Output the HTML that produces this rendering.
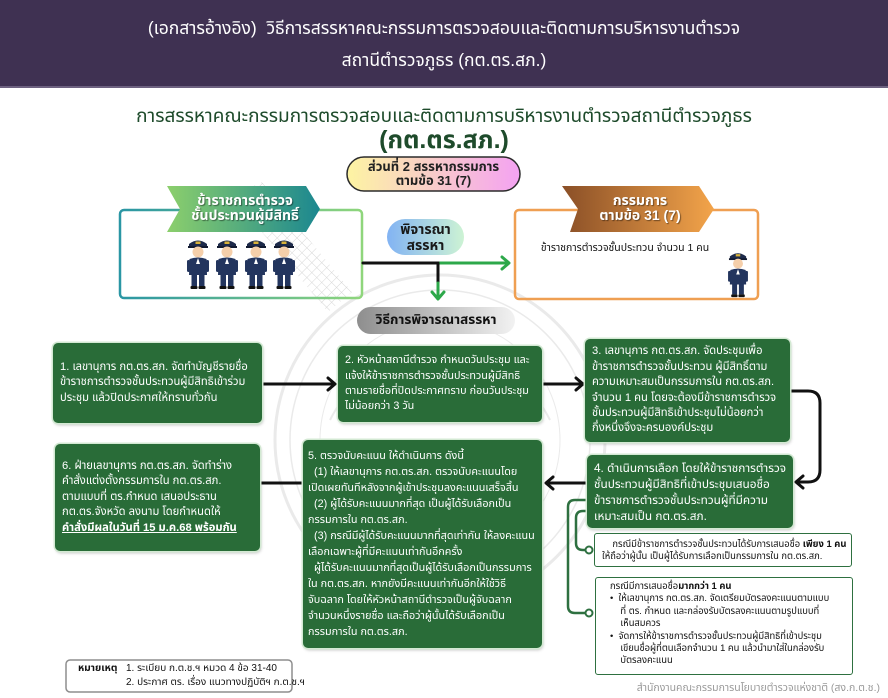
<!DOCTYPE html>
<html><head><meta charset="utf-8">
<style>
*{margin:0;padding:0;box-sizing:border-box}
html,body{width:888px;height:698px;overflow:hidden;background:#fff}
body{position:relative;font-family:"Liberation Sans","Noto Sans Thai","Noto Sans Thai Looped","Loma","Garuda","Tlwg Typo","Kinnari","DejaVu Sans",sans-serif;color:#111}
.abs{position:absolute}
#hdr{left:0;top:0;width:888px;height:88px;background:#3f3152;border-bottom:2px solid #6d6180;color:#fff;text-align:center;font-size:17.5px;line-height:32px;padding-top:12px;white-space:nowrap}
.title1{left:0;width:888px;top:102px;text-align:center;font-size:19px;color:#1e4b2b;white-space:nowrap}
.title2{left:0;width:888px;top:122px;text-align:center;font-size:25px;font-weight:bold;color:#1e4b2b}
.pill{border-radius:20px;display:flex;align-items:center;justify-content:center;text-align:center;font-weight:bold;white-space:nowrap}
.step{background:#296c38;color:#fff;border-radius:5px;box-shadow:0 0 0 1.5px #d3e9d3,1px 2px 3px rgba(0,0,0,.25);font-size:11.2px;line-height:15.4px;display:flex;align-items:center;padding:0 7px;white-space:nowrap;overflow:hidden}
.sub{background:#fff;border:1.5px solid #2e7040;border-radius:3px;font-size:9.4px;line-height:12px;white-space:nowrap;color:#111;overflow:hidden}
.banner{color:#fff;font-weight:bold;text-align:center;font-size:14px;line-height:15px;text-shadow:1px 1px 1px rgba(0,0,0,.45);white-space:nowrap}
</style></head><body>

<div id="hdr" class="abs">(เอกสารอ้างอิง)&nbsp; วิธีการสรรหาคณะกรรมการตรวจสอบและติดตามการบริหารงานตำรวจ<br>สถานีตำรวจภูธร (กต.ตร.สภ.)</div>

<svg class="abs" style="left:0;top:0" width="888" height="698" viewBox="0 0 888 698">
<defs>
<linearGradient id="gLB" x1="0" x2="1"><stop offset="0" stop-color="#8ccf6c"/><stop offset="1" stop-color="#1b8790"/></linearGradient>
<linearGradient id="gRB" x1="0" x2="1"><stop offset="0" stop-color="#8a4f27"/><stop offset="1" stop-color="#f3a44a"/></linearGradient>
<linearGradient id="gLBox" x1="0" x2="1"><stop offset="0" stop-color="#2a96a4"/><stop offset="1" stop-color="#8fd67c"/></linearGradient>
<linearGradient id="gPill" x1="0" x2="1"><stop offset="0" stop-color="#fdf4a2"/><stop offset="1" stop-color="#f4a2f2"/></linearGradient>
<linearGradient id="gPj" x1="0" x2="1"><stop offset="0" stop-color="#82b3f3"/><stop offset="1" stop-color="#cdf3d4"/></linearGradient>
<linearGradient id="gWt" x1="0" x2="1"><stop offset="0" stop-color="#8e8e8e"/><stop offset="1" stop-color="#f2f2f2"/></linearGradient>
<pattern id="mesh" width="7" height="7" patternUnits="userSpaceOnUse" patternTransform="rotate(45)"><path d="M0 0H7M0 0V7" stroke="#bdbdbd" stroke-width="1"/></pattern>
<symbol id="cop" viewBox="0 0 24 52">
 <path d="M3 6 Q12 -1 21 6 L21 9 L3 9 Z" fill="#1d2a4a"/>
 <rect x="9.5" y="3.5" width="5" height="2.5" fill="#d8b23a"/>
 <rect x="2" y="8" width="20" height="2" fill="#121a30"/>
 <circle cx="12" cy="14" r="5.5" fill="#f5cfaa"/>
 <path d="M3.5 21 Q12 18 20.5 21 L21 37 L3 37 Z" fill="#23355e"/>
 <path d="M12 20 L10 26 L14 26 Z" fill="#fff"/>
 <rect x="5.5" y="37" width="5.5" height="11" fill="#23355e"/>
 <rect x="13" y="37" width="5.5" height="11" fill="#23355e"/>
 <rect x="4.5" y="48" width="7" height="3" rx="1" fill="#111"/>
 <rect x="12.5" y="48" width="7" height="3" rx="1" fill="#111"/>
 <rect x="1" y="22" width="3" height="12" rx="1.5" fill="#23355e"/>
 <rect x="20" y="22" width="3" height="12" rx="1.5" fill="#23355e"/>
</symbol>
</defs>

<!-- watermark seal -->
<g opacity="0.55" fill="none" stroke="#d9d9d9">
 <circle cx="440" cy="440" r="165" stroke-width="3"/>
 <circle cx="440" cy="440" r="150" stroke-width="1.5"/>
 <circle cx="440" cy="440" r="120" stroke-width="1"/>
 <path d="M330 420 Q360 360 440 350 Q520 360 550 420" stroke-width="2"/>
 <path d="M360 470 Q440 520 520 470" stroke-width="2"/>
</g>
<polygon points="232,196 262,182 352,292 328,312" fill="url(#mesh)" opacity="0.6"/>

<!-- left box -->
<rect x="120" y="210" width="242" height="88" rx="4" fill="none" stroke="url(#gLBox)" stroke-width="2.5"/>
<polygon points="167,186 306,186 320,209 306,232 167,232 180,209" fill="url(#gLB)"/>
<use href="#cop" x="186" y="238" width="24" height="52"/>
<use href="#cop" x="215" y="238" width="24" height="52"/>
<use href="#cop" x="244" y="238" width="24" height="52"/>
<use href="#cop" x="272" y="238" width="24" height="52"/>

<!-- right box -->
<rect x="515" y="210" width="243" height="89" rx="4" fill="none" stroke="#ef9f52" stroke-width="2.5"/>
<polygon points="562,186 699,186 714,209 699,232 570,232 578,209" fill="url(#gRB)"/>
<use href="#cop" x="727" y="251" width="22" height="47"/>

<!-- center pills -->
<rect x="387" y="219" width="77" height="36" rx="18" fill="url(#gPj)"/>
<rect x="357" y="307" width="158" height="27" rx="13.5" fill="url(#gWt)"/>
<rect x="347" y="157" width="173" height="34" rx="17" fill="url(#gPill)" stroke="#2b2b2b" stroke-width="1.5"/>

<!-- top arrows -->
<g fill="none" stroke-width="3" stroke-linecap="round" stroke-linejoin="round">
 <path d="M363 263 H440" stroke="#111"/>
 <path d="M440 263 H508" stroke="#2da84a"/>
 <path d="M502 257 L509 263 L502 269" stroke="#2da84a"/>
 <path d="M438 263 V283" stroke="#111"/>
 <path d="M438 283 V298" stroke="#2da84a"/>
 <path d="M432 292 L438 299 L444 292" stroke="#2da84a"/>
</g>

<!-- step arrows -->
<g fill="none" stroke="#111" stroke-width="3" stroke-linecap="round" stroke-linejoin="round">
 <path d="M263 384 H334"/><path d="M328 378 L335 384 L328 390"/>
 <path d="M543 384 H582"/><path d="M576 378 L583 384 L576 390"/>
 <path d="M791 391 H808 Q820 391 820 403 V470 Q820 482 808 482 H797"/><path d="M803 476 L796 482 L803 488"/>
 <path d="M587 483 H547"/><path d="M553 477 L546 483 L553 489"/>
 <path d="M302 483 H244"/><path d="M250 477 L243 483 L250 489"/>
</g>

<!-- brackets -->
<g fill="none" stroke="#2e7040" stroke-width="2.5">
 <path d="M589 500 H575 Q568 500 568 507 V606 Q568 613 575 613 H586"/>
 <path d="M589 511 H583 Q576 511 576 518 V543 Q576 550 583 550 H586"/>
</g>
<circle cx="589" cy="550" r="3.5" fill="#fff" stroke="#2e7040" stroke-width="2"/>
<circle cx="589" cy="613" r="3.5" fill="#fff" stroke="#2e7040" stroke-width="2"/>

<!-- note box -->
<rect x="66" y="660" width="226" height="32" rx="4" fill="#fff" stroke="#8d8d8d" stroke-width="1.5"/>
</svg>

<div class="abs title1">การสรรหาคณะกรรมการตรวจสอบและติดตามการบริหารงานตำรวจสถานีตำรวจภูธร</div>
<div class="abs title2">(กต.ตร.สภ.)</div>

<div class="abs pill" style="left:347px;top:157px;width:173px;height:34px;font-size:13px;line-height:14px;color:#222"><div>ส่วนที่ 2 สรรหากรรมการ<br>ตามข้อ 31 (7)</div></div>

<div class="abs banner" style="left:175px;top:193px;width:140px">ข้าราชการตำรวจ<br>ชั้นประทวนผู้มีสิทธิ์</div>
<div class="abs banner" style="left:570px;top:193px;width:140px">กรรมการ<br>ตามข้อ 31 (7)</div>
<div class="abs" style="left:525px;top:240px;width:200px;text-align:center;font-size:10.5px;white-space:nowrap">ข้าราชการตำรวจชั้นประทวน จำนวน 1 คน</div>

<div class="abs pill" style="left:387px;top:219px;width:77px;height:36px;font-size:14px;line-height:16px;color:#1a1a1a"><div>พิจารณา<br>สรรหา</div></div>
<div class="abs pill" style="left:357px;top:307px;width:158px;height:27px;font-size:13.5px;color:#111"><div>วิธีการพิจารณาสรรหา</div></div>

<div class="abs step" style="left:53px;top:343px;width:209px;height:80px"><div>1. เลขานุการ กต.ตร.สภ. จัดทำบัญชีรายชื่อ<br>ข้าราชการตำรวจชั้นประทวนผู้มีสิทธิเข้าร่วม<br>ประชุม แล้วปิดประกาศให้ทราบทั่วกัน</div></div>

<div class="abs step" style="left:338px;top:346px;width:204px;height:76px;font-size:10.8px"><div>2. หัวหน้าสถานีตำรวจ กำหนดวันประชุม และ<br>แจ้งให้ข้าราชการตำรวจชั้นประทวนผู้มีสิทธิ<br>ตามรายชื่อที่ปิดประกาศทราบ ก่อนวันประชุม<br>ไม่น้อยกว่า 3 วัน</div></div>

<div class="abs step" style="left:585px;top:339px;width:205px;height:103px"><div>3. เลขานุการ กต.ตร.สภ. จัดประชุมเพื่อ<br>ข้าราชการตำรวจชั้นประทวน ผู้มีสิทธิ์ตาม<br>ความเหมาะสมเป็นกรรมการใน กต.ตร.สภ.<br>จำนวน 1 คน โดยจะต้องมีข้าราชการตำรวจ<br>ชั้นประทวนผู้มีสิทธิเข้าประชุมไม่น้อยกว่า<br>กึ่งหนึ่งจึงจะครบองค์ประชุม</div></div>

<div class="abs step" style="left:587px;top:455px;width:206px;height:73px;font-size:11.8px;line-height:16px"><div>4. ดำเนินการเลือก โดยให้ข้าราชการตำรวจ<br>ชั้นประทวนผู้มีสิทธิที่เข้าประชุมเสนอชื่อ<br>ข้าราชการตำรวจชั้นประทวนผู้ที่มีความ<br>เหมาะสมเป็น กต.ตร.สภ.</div></div>

<div class="abs step" style="left:303px;top:440px;width:239px;height:208px;line-height:16px;padding:0 5px;font-size:10.8px"><div>5. ตรวจนับคะแนน ให้ดำเนินการ ดังนี้<br>&nbsp; (1) ให้เลขานุการ กต.ตร.สภ. ตรวจนับคะแนนโดย<br>เปิดเผยทันทีหลังจากผู้เข้าประชุมลงคะแนนเสร็จสิ้น<br>&nbsp; (2) ผู้ได้รับคะแนนมากที่สุด เป็นผู้ได้รับเลือกเป็น<br>กรรมการใน กต.ตร.สภ.<br>&nbsp; (3) กรณีมีผู้ได้รับคะแนนมากที่สุดเท่ากัน ให้ลงคะแนน<br>เลือกเฉพาะผู้ที่มีคะแนนเท่ากันอีกครั้ง<br>&nbsp; ผู้ได้รับคะแนนมากที่สุดเป็นผู้ได้รับเลือกเป็นกรรมการ<br>ใน กต.ตร.สภ. หากยังมีคะแนนเท่ากันอีกให้ใช้วิธี<br>จับฉลาก โดยให้หัวหน้าสถานีตำรวจเป็นผู้จับฉลาก<br>จำนวนหนึ่งรายชื่อ และถือว่าผู้นั้นได้รับเลือกเป็น<br>กรรมการใน กต.ตร.สภ.</div></div>

<div class="abs step" style="left:55px;top:444px;width:205px;height:107px;line-height:15.5px"><div>6. ฝ่ายเลขานุการ กต.ตร.สภ. จัดทำร่าง<br>คำสั่งแต่งตั้งกรรมการใน กต.ตร.สภ.<br>ตามแบบที่ ตร.กำหนด เสนอประธาน<br>กต.ตร.จังหวัด ลงนาม โดยกำหนดให้<br><b style="text-decoration:underline">คำสั่งมีผลในวันที่ 15 ม.ค.68 พร้อมกัน</b></div></div>

<div class="abs sub" style="left:594px;top:533px;width:258px;height:34px;padding:4px 0 0 7px">&nbsp;&nbsp;&nbsp;&nbsp;กรณีมีข้าราชการตำรวจชั้นประทวนได้รับการเสนอชื่อ <b>เพียง 1 คน</b><br>ให้ถือว่าผู้นั้น เป็นผู้ได้รับการเลือกเป็นกรรมการใน กต.ตร.สภ.</div>

<div class="abs sub" style="left:595px;top:577px;width:258px;height:98px;padding:2px 0 0 14px;line-height:12.4px">กรณีมีการเสนอชื่อ<b>มากกว่า 1 คน</b><br>•&nbsp; ให้เลขานุการ กต.ตร.สภ. จัดเตรียมบัตรลงคะแนนตามแบบ<br>&nbsp;&nbsp;&nbsp; ที่ ตร. กำหนด และกล่องรับบัตรลงคะแนนตามรูปแบบที่<br>&nbsp;&nbsp;&nbsp; เห็นสมควร<br>•&nbsp; จัดการให้ข้าราชการตำรวจชั้นประทวนผู้มีสิทธิที่เข้าประชุม<br>&nbsp;&nbsp;&nbsp; เขียนชื่อผู้ที่ตนเลือกจำนวน 1 คน แล้วนำมาใส่ในกล่องรับ<br>&nbsp;&nbsp;&nbsp; บัตรลงคะแนน</div>

<div class="abs" style="left:78px;top:662px;font-size:10px;line-height:13px;white-space:nowrap"><b>หมายเหตุ</b></div>
<div class="abs" style="left:126px;top:662px;font-size:10px;line-height:14px;white-space:nowrap">1. ระเบียบ ก.ต.ช.ฯ หมวด 4 ข้อ 31-40<br>2. ประกาศ ตร. เรื่อง แนวทางปฏิบัติฯ ก.ต.ช.ฯ</div>

<div class="abs" style="left:560px;top:680px;width:320px;text-align:right;font-size:10.5px;color:#9a9a9a;white-space:nowrap">สำนักงานคณะกรรมการนโยบายตำรวจแห่งชาติ (สง.ก.ต.ช.)</div>

</body></html>
